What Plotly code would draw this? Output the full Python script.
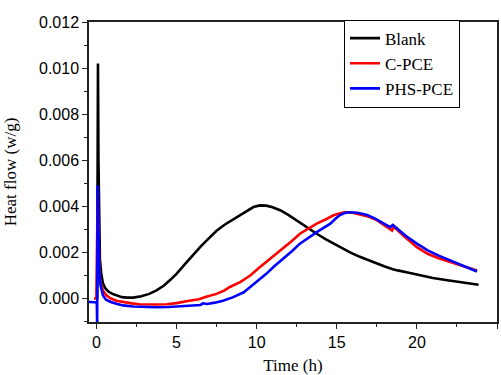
import plotly.graph_objects as go

# ---- data ----
blank_t = [0.05, 0.1, 0.13, 0.17, 0.22, 0.3, 0.41, 0.55, 0.75, 1.0, 1.3, 1.6, 1.9, 2.3, 2.8,
           3.3, 3.75, 4.2, 4.6, 5.0, 5.5, 6.0, 6.5, 7.0, 7.5, 8.0, 8.5, 9.0, 9.4, 9.8, 10.2,
           10.6, 11.0, 11.5, 12.0, 12.7, 13.2, 13.75, 14.3, 14.8, 15.3, 15.8, 16.4, 17.0,
           17.5, 18.0, 18.5, 18.7, 18.8, 19.5, 20.2, 21.0, 21.8, 22.6, 23.3, 23.85]
blank_v = [0.0, 0.0102, 0.0060, 0.0030, 0.0017, 0.0011, 0.00066, 0.00045, 0.0003, 0.0002,
           0.00012, 0.00006, 0.00004, 0.00004, 0.00010, 0.0002, 0.00035, 0.00055, 0.0008,
           0.00107, 0.00147, 0.00187, 0.00225, 0.0026, 0.00294, 0.0032, 0.00342, 0.00365,
           0.00383, 0.00397, 0.00404, 0.00403, 0.00396, 0.00382, 0.00362, 0.00329, 0.00305,
           0.00281, 0.00258, 0.00238, 0.00219, 0.00201, 0.00182, 0.00165, 0.00151, 0.00139,
           0.00127, 0.00122, 0.00122, 0.00112, 0.00101, 0.00089, 0.0008, 0.00072, 0.00066,
           0.0006]

cpce_t = [-0.15, 0.0, 0.08, 0.13, 0.18, 0.25, 0.41, 0.6, 0.9, 1.25, 1.67, 2.2, 2.7, 3.2, 3.75,
          4.4, 5.0, 5.8, 6.4, 6.9, 7.5, 8.0, 8.33, 9.0, 9.6, 10.1, 10.6, 11.1, 11.67, 12.2,
          12.7, 13.2, 13.75, 14.3, 14.8, 15.2, 15.5, 16.0, 16.45, 17.0, 17.5, 18.0, 18.4,
          18.45, 18.55, 19.2, 20.0, 20.7, 21.4, 22.1, 22.9, 23.75]
cpce_v = [0.0, 0.0, 0.0045, 0.0025, 0.0012, 0.0007, 0.00035, 0.00015, 0.0, -0.0001, -0.00016,
          -0.00021, -0.00025, -0.00026, -0.00026, -0.00025, -0.0002, -0.0001, -0.00003,
          0.00009, 0.0002, 0.00035, 0.0005, 0.00072, 0.001, 0.0013, 0.00158, 0.00188, 0.0022,
          0.0025, 0.00281, 0.00303, 0.00325, 0.00343, 0.00361, 0.0037, 0.00374, 0.00372,
          0.00365, 0.00355, 0.0034, 0.00318, 0.00297, 0.00295, 0.00312, 0.0027, 0.00223,
          0.00193, 0.00174, 0.00158, 0.0014, 0.00122]

phs_t = [-0.46, -0.1, 0.03, 0.05, 0.08, 0.12, 0.18, 0.25, 0.41, 0.6, 0.9, 1.25, 1.67, 2.3,
         3.0, 3.75, 4.5, 5.2, 5.8, 6.5, 6.65, 6.75, 6.9, 7.4, 7.9, 8.5, 9.2, 9.6, 10.1, 10.6,
         11.1, 11.67, 12.2, 12.7, 13.2, 13.75, 14.2, 14.6, 14.9, 15.2, 15.5, 15.8, 16.3,
         16.9, 17.4, 17.9, 18.33, 18.5, 18.7, 19.3, 20.0, 20.7, 21.4, 22.1, 22.9, 23.75]
phs_v = [-0.00015, -0.00016, -0.0002, -0.0012, 0.0049, 0.0025, 0.0012, 0.0006, 0.00013,
         -0.00005, -0.00015, -0.00023, -0.0003, -0.00035, -0.00038, -0.00038, -0.00037,
         -0.00034, -0.0003, -0.00028, -0.00021, -0.00022, -0.00024, -0.00018, -0.0001,
         0.00005, 0.00027, 0.0005, 0.00078, 0.00107, 0.0014, 0.00172, 0.00205, 0.00238,
         0.00263, 0.00288, 0.00308, 0.00325, 0.00345, 0.00362, 0.00371, 0.00374, 0.00372,
         0.00362, 0.00347, 0.00328, 0.0031, 0.00319, 0.00307, 0.00272, 0.00238, 0.00208,
         0.00185, 0.00165, 0.0014, 0.00117]

series = [("Blank", blank_t, blank_v, "#000000"),
          ("C-PCE", cpce_t, cpce_v, "#ff0000"),
          ("PHS-PCE", phs_t, phs_v, "#0000ff")]

fig = go.Figure()
for name, t, v, c in series:
    fig.add_trace(go.Scatter(x=t, y=v, mode="lines", name=name,
                             line=dict(color=c, width=2.6)))

axis_common = dict(
    showline=True, linecolor="#222", linewidth=1.5, mirror=True,
    ticks="outside", ticklen=5, tickwidth=1.2, tickcolor="#222",
    showgrid=False, zeroline=False,
    tickfont=dict(family="Liberation Sans, Arial", size=16, color="#000"),
)

fig.update_layout(
    width=501, height=375,
    margin=dict(l=89, r=4, t=22, b=53, autoexpand=False),
    paper_bgcolor="white", plot_bgcolor="white",
    font=dict(family="Liberation Serif, Times New Roman", size=16, color="#000"),
    xaxis=dict(range=[-0.46, 25], dtick=5, tick0=0, automargin=False,
               minor=dict(dtick=2.5, ticks="outside", ticklen=3, tickcolor="#222"),
               title=dict(text="Time (h)", font=dict(family="Liberation Serif", size=17),
                          standoff=12),
               **axis_common),
    yaxis=dict(range=[-0.00102, 0.012], dtick=0.002, tick0=0, tickformat=".3f",
               automargin=False,
               minor=dict(dtick=0.001, ticks="outside", ticklen=3, tickcolor="#222"),
               title=dict(text="Heat flow (w/g)", font=dict(family="Liberation Serif", size=17),
                          standoff=18),
               **axis_common),
    legend=dict(x=0.625, y=1.008, xanchor="left", yanchor="top",
                bgcolor="white", bordercolor="#000", borderwidth=1,
                font=dict(family="Liberation Serif", size=17, color="#000"),
                tracegroupgap=0, itemwidth=30),
    showlegend=True,
)

fig.write_html("out.html")
